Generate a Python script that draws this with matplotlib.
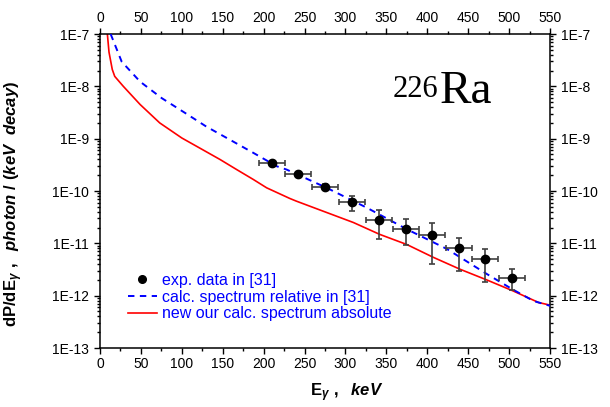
import matplotlib
matplotlib.use("Agg")
import matplotlib.pyplot as plt
from matplotlib.lines import Line2D
from matplotlib.ticker import FixedLocator, LogLocator, NullFormatter, MultipleLocator

plt.rcParams['font.family'] = ['Liberation Sans', 'DejaVu Sans']
plt.rcParams['mathtext.fontset'] = 'custom'
plt.rcParams['mathtext.rm'] = 'Liberation Sans:bold'
plt.rcParams['mathtext.it'] = 'Liberation Sans:italic:bold'
plt.rcParams['mathtext.bf'] = 'Liberation Sans:bold'

# ---- data ----
exp_E = [210, 242, 275, 308, 341, 374, 406, 439, 471, 504]
exp_val = [3.5e-10, 2.15e-10, 1.18e-10, 6.1e-11, 2.78e-11, 1.9e-11, 1.42e-11, 8.0e-12, 5.1e-12, 2.2e-12]
exp_low = [3.3e-10, 2.0e-10, 1.05e-10, 4.1e-11, 1.19e-11, 9.1e-12, 4.0e-12, 2.9e-12, 1.8e-12, 1.3e-12]
exp_high = [3.7e-10, 2.3e-10, 1.35e-10, 7.9e-11, 4.3e-11, 2.86e-11, 2.4e-11, 1.29e-11, 7.9e-12, 3.2e-12]
exp_xerr = [16, 16, 16, 16, 16, 16, 16, 16, 16, 16]

rel_E = [13, 26.5, 49, 75.4, 104, 130, 159, 187, 216, 228, 277, 326, 375, 424, 472.7, 505, 530, 550]
rel_val = [1e-7, 2.96e-8, 1.23e-8, 5.96e-9, 3.1e-9, 1.7e-9, 9.5e-10, 5.4e-10, 2.97e-10, 2.57e-10,
           1.15e-10, 4.8e-11, 1.86e-11, 7.8e-12, 2.6e-12, 1.3e-12, 7.9e-13, 6.4e-13]

abs_E = [9, 11, 15, 18, 28.5, 49, 73, 100, 122, 146.7, 167, 187.4, 203.7, 232, 240, 273, 309.7,
         342, 375, 407.4, 440, 472.7, 505, 536, 550]
abs_val = [1e-7, 4.5e-8, 2.1e-8, 1.55e-8, 1.0e-8, 4.5e-9, 2.0e-9, 1.03e-9, 6.6e-10, 4.0e-10, 2.57e-10,
           1.66e-10, 1.15e-10, 7.2e-11, 6.4e-11, 4.1e-11, 2.5e-11, 1.48e-11, 9.5e-12, 5.4e-12,
           3.2e-12, 2.0e-12, 1.23e-12, 7.4e-13, 6.6e-13]

x_ticks = [0, 50, 100, 150, 200, 250, 300, 350, 400, 450, 500, 550]
y_ticks = [1e-13, 1e-12, 1e-11, 1e-10, 1e-9, 1e-8, 1e-7]
y_ticklabels = ['1E-13', '1E-12', '1E-11', '1E-10', '1E-9', '1E-8', '1E-7']

labels = ['exp. data in [31]', 'calc. spectrum relative in [31]', 'new our calc. spectrum absolute']

# ---- figure ----
W, H = 610, 407
fig = plt.figure(figsize=(6.1, 4.07), dpi=100)
ax = fig.add_axes([100 / W, 1 - 348 / H, 450 / W, 314 / H])

ax.plot(abs_E, abs_val, color='#ff0000', lw=1.2, zorder=2)
ax.plot(rel_E, rel_val, color='#0000ff', lw=1.4, dashes=(3.3, 2.8), zorder=3)

yerr = [[v - l for v, l in zip(exp_val, exp_low)], [h - v for v, h in zip(exp_val, exp_high)]]
ax.errorbar(exp_E, exp_val, yerr=yerr, xerr=exp_xerr, fmt='o', color='black', ms=6,
            ecolor='#404040', elinewidth=1.2, capsize=2.5, capthick=1.2, zorder=4)

ax.set_yscale('log')
ax.set_xlim(0, 550)
ax.set_ylim(1e-13, 1e-7)

ax.xaxis.set_major_locator(FixedLocator(x_ticks))
ax.xaxis.set_minor_locator(MultipleLocator(25))
ax.yaxis.set_major_locator(FixedLocator(y_ticks))
ax.set_yticklabels(y_ticklabels)
ax.yaxis.set_minor_locator(LogLocator(base=10, subs=range(2, 10), numticks=20))
ax.yaxis.set_minor_formatter(NullFormatter())

ax.tick_params(which='both', direction='out', top=True, right=True,
               labeltop=True, labelright=True, labelsize=10, width=1.0)
ax.tick_params(which='major', length=4.5)
ax.tick_params(which='minor', length=2.5)
ax.tick_params(axis='x', which='major', pad=2)
ax.tick_params(axis='y', which='major', pad=3.5)
for s in ax.spines.values():
    s.set_linewidth(1.1)

ax.set_ylabel(r"$\mathrm{dP/dE}_{\gamma}\ ,\ \ \mathit{photon\ /\ (keV\ \ decay)}$", fontsize=12)
ax.yaxis.set_label_coords(-0.167, 0.46)
ax.set_xlabel(r"$\mathrm{E}_{\gamma}\ ,\ \ \mathit{keV}$", fontsize=12)
ax.xaxis.set_label_coords(0.549, -0.105)

handles = [Line2D([], [], color='black', marker='o', ls='none', ms=5.5),
           Line2D([], [], color='#0000ff', lw=1.4, dashes=(3.3, 2.8)),
           Line2D([], [], color='#ff0000', lw=1.2)]
leg = ax.legend(handles, labels, loc='upper left', bbox_to_anchor=(128 / W, 1 - 273 / H),
                bbox_transform=fig.transFigure, frameon=False, fontsize=11.5,
                handlelength=1.8, handletextpad=0.3, labelspacing=0.1, borderpad=0,
                borderaxespad=0)
for t in leg.get_texts():
    t.set_color('#0000ff')

ra = fig.text(440 / W, 1 - 103 / H, 'Ra', fontsize=34, family='Liberation Serif',
              ha='left', va='baseline')
ax.annotate('226', xy=(0, 1), xycoords=ra, xytext=(-1, -3), textcoords='offset points',
            ha='right', va='top', fontsize=22, family='Liberation Serif')

fig.savefig('out.png', dpi=100)
